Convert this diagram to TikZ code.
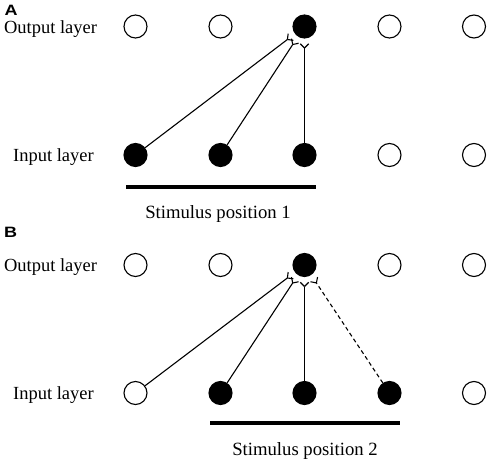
\documentclass[tikz,border=0pt]{standalone}
\usepackage{fontspec}
\setmainfont{Liberation Serif}
\newfontfamily\panelfont{Liberation Sans}
\usetikzlibrary{calc}
\tikzset{
  neuron/.style={circle, draw=black, line width=1.1pt, minimum size=23pt, inner sep=0pt, fill=white},
  active/.style={neuron, fill=black},
  layerlabel/.style={anchor=base, inner sep=0pt, font=\fontsize{18.5}{20}\selectfont},
  stimlabel/.style={anchor=base, inner sep=0pt, font=\fontsize{18.7}{20}\selectfont},
  panel/.style={inner sep=0pt, font=\panelfont\bfseries\fontsize{15}{16}\selectfont},
  axon/.style={line width=1.1pt},
  weakaxon/.style={line width=1.1pt, dash pattern=on 4pt off 3pt},
  spine/.style={line width=1.1pt},
  stimbar/.style={line width=4pt}
}
\newcommand{\synterm}[3]{% #1 input node, #2 output node, #3 terminal name
  \coordinate (#3) at ($(#2)!21.5pt!(#1)$);
  \draw[spine] (#3) -- ($(#3)!6pt!45:(#2)$);
  \draw[spine] (#3) -- ($(#3)!6pt!-45:(#2)$);
}
\begin{document}
\begin{tikzpicture}[x=1pt,y=-1pt]
\useasboundingbox (0,0) rectangle (490,463);
% ---------- Panel A ----------
\node[panel] (lA) at (11,10) {\scalebox{1.2}[1]{A}};
\node[layerlabel] (oA) at (50.5,33.3) {Output layer};
\node[layerlabel] (iA) at (53.5,161.7) {Input layer};
\node[neuron] (ao1) at (135.5,26.5) {};
\node[neuron] (ao2) at (220.5,26.5) {};
\node[active] (ao3) at (304.5,26.5) {};
\node[neuron] (ao4) at (389.5,26.5) {};
\node[neuron] (ao5) at (474,26.5) {};
\node[active] (ai1) at (135.5,155) {};
\node[active] (ai2) at (220.5,155) {};
\node[active] (ai3) at (304.5,155) {};
\node[neuron] (ai4) at (389.5,155) {};
\node[neuron] (ai5) at (474,155) {};
\synterm{ai1}{ao3}{ta1}
\synterm{ai2}{ao3}{ta2}
\synterm{ai3}{ao3}{ta3}
\draw[axon] (ai1) -- (ta1);
\draw[axon] (ai2) -- (ta2);
\draw[axon] (ai3) -- (ta3);
\coordinate (barA1) at (126,187);
\coordinate (barA2) at (316,187);
\draw[stimbar] (barA1) -- (barA2);
\node[stimlabel] (sA) at (218,218) {Stimulus position 1};
% ---------- Panel B ----------
\node[panel] (lB) at (10.5,232) {\scalebox{1.2}[1]{B}};
\node[layerlabel] (oB) at (50.5,271.5) {Output layer};
\node[layerlabel] (iB) at (53.5,399.5) {Input layer};
\node[neuron] (bo1) at (135.5,265) {};
\node[neuron] (bo2) at (220.5,265) {};
\node[active] (bo3) at (304.5,265) {};
\node[neuron] (bo4) at (389.5,265) {};
\node[neuron] (bo5) at (474,265) {};
\node[neuron] (bi1) at (135.5,393) {};
\node[active] (bi2) at (220.5,393) {};
\node[active] (bi3) at (304.5,393) {};
\node[active] (bi4) at (389.5,393) {};
\node[neuron] (bi5) at (474,393) {};
\synterm{bi1}{bo3}{tb1}
\synterm{bi2}{bo3}{tb2}
\synterm{bi3}{bo3}{tb3}
\synterm{bi4}{bo3}{tb4}
\draw[axon] (bi1) -- (tb1);
\draw[axon] (bi2) -- (tb2);
\draw[axon] (bi3) -- (tb3);
\draw[weakaxon] (bi4) -- (tb4);
\coordinate (barB1) at (210,423);
\coordinate (barB2) at (400,423);
\draw[stimbar] (barB1) -- (barB2);
\node[stimlabel] (sB) at (305,455) {Stimulus position 2};
\end{tikzpicture}
\end{document}
